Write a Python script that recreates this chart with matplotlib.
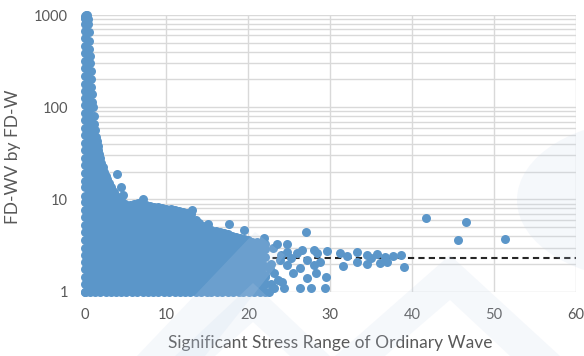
#!/usr/bin/env python3
"""
Scatter of FD-WV by FD-W against significant stress range of ordinary wave
(log y axis, dense cloud near the origin, dashed reference level).
"""
import matplotlib
matplotlib.use('Agg')
import matplotlib.pyplot as plt
from matplotlib.patches import Polygon, Circle

matplotlib.rcParams['font.family'] = ['Lato', 'DejaVu Sans']

# Upper edge of the dense cloud (x = stress range, y = FD-WV / FD-W)
env_x = [0.0, 0.1, 0.2, 0.3, 0.4, 0.45, 0.5, 0.55, 0.6, 0.65, 0.7, 0.75, 0.8,
         0.85, 0.9, 0.95, 1.0, 1.1, 1.2, 1.3, 1.4, 1.5, 1.6, 1.7, 1.8, 1.9,
         2.0, 2.2, 2.4, 2.6, 2.8, 3.0, 3.2, 3.4, 3.6, 3.9, 4.2, 4.6, 5.0, 5.5,
         6.0, 6.5, 7.0, 7.5, 8.0, 8.5, 9.0, 9.5, 10.0, 10.5, 11.0, 11.5, 12.0,
         12.5, 13.0, 13.6, 14.0, 14.5, 15.0, 15.5, 16.0, 16.5, 17.0, 17.5,
         18.0, 18.5, 19.0, 19.5, 20.0, 20.5, 21.0, 21.5, 22.0]
env_y = [930, 980, 1000, 1000, 900, 800, 650, 520, 430, 360, 300, 250, 200,
         165, 140, 115, 100, 80, 66, 56, 48, 43, 38, 34, 31, 28,
         25, 22.5, 20, 18, 16.5, 15, 13.8, 12.8, 12, 11, 10.2, 9.5, 9.0, 8.8,
         8.9, 9.2, 9.1, 8.8, 8.5, 8.3, 8.2, 8.0, 7.9, 7.8, 7.7, 7.5, 7.3,
         7.1, 6.9, 6.0, 5.5, 5.2, 4.9, 4.7, 4.6, 4.4, 4.3, 4.2,
         4.0, 3.9, 3.8, 3.7, 3.6, 3.5, 3.45, 3.4, 3.3]

# Points along the lower and left border of the cloud
bottom_x = [0.1, 0.7, 1.3, 1.9, 2.6, 3.2, 3.9, 4.5, 5.1, 5.8, 6.4, 7.1, 7.7,
            8.4, 9.0, 9.7, 10.3, 11.0, 11.6, 12.3, 12.9, 13.6, 14.2, 14.9,
            15.5, 16.2, 16.8, 17.5, 18.1, 18.8, 19.4, 20.1, 20.7, 21.4, 22.0,
            22.5]
left_y = [1.0, 1.2, 1.45, 1.75, 2.1, 2.5, 3.0, 3.6, 4.4, 5.3, 6.4, 7.7, 9.3,
          11, 13.5, 16, 19.5, 23.5, 28, 34, 41, 50, 60, 72, 87, 105, 125,
          150, 180, 220, 265, 320, 385, 460, 560, 670, 800, 930]
right_y = [1.2, 1.5, 1.9, 2.4, 2.9]

# Individual points outside / around the cloud
pts_x = [4.0, 4.4, 4.75, 7.2, 13.1, 15.1, 17.6, 19.5, 21.9, 23.5, 24.7, 26.6,
         27.0, 28.0, 29.6, 31.2, 32.0, 33.3, 34.5, 35.7, 36.7, 37.6, 38.6,
         39.0, 31.6, 33.3, 34.5, 36.1, 36.9, 35.0, 26.3, 27.6, 29.4, 29.5,
         24.3, 23.1, 26.3, 28.0, 28.8, 27.2, 28.2, 25.5, 24.7, 23.9, 24.1,
         23.1, 22.8, 24.7, 25.9, 27.2, 28.4, 22.8, 22.0, 23.0, 24.0, 25.2,
         22.6, 23.6, 41.7, 46.6, 45.6, 51.3]
pts_y = [18.9, 13.8, 11.3, 10.1, 7.7, 5.44, 5.44, 4.68, 3.81, 3.27, 3.27, 2.84,
         4.42, 2.86, 2.79, 2.61, 2.44, 2.72, 2.5, 2.57, 2.4, 2.43, 2.5,
         1.87, 1.9, 2.12, 2.0, 2.03, 2.12, 2.3, 1.09, 1.09, 1.09, 1.46,
         1.09, 1.09, 1.8, 1.95, 2.12, 1.4, 1.58, 1.58, 1.95, 2.21, 1.28,
         1.58, 2.0, 2.7, 2.6, 2.2, 2.6, 1.2, 1.45, 3.0, 2.5, 2.3,
         1.75, 1.35, 6.36, 5.68, 3.65, 3.71]

ref_level = 2.31

x_ticks = [0, 10, 20, 30, 40, 50, 60]
y_ticks = [1, 10, 100, 1000]

blue = '#5b96c9'
text_gray = '#595959'
grid_gray = '#d9d9d9'

W, H = 584, 356
fig = plt.figure(figsize=(W / 100, H / 100), dpi=100)
ax = fig.add_axes([84.5 / W, 1 - 291.7 / H, 491.5 / W, 276.7 / H])

ax.set_yscale('log')
ax.set_xlim(0, 60)
ax.set_ylim(1, 1000)

ax.axhline(ref_level, color='#262626', linewidth=1.5, dashes=(3, 2), zorder=1.5)

ax.fill_between(env_x, 1.0, env_y, color=blue, linewidth=0, zorder=2)
ms = 42
kw = dict(s=ms, color=blue, linewidths=0, zorder=3, clip_on=False)
ax.scatter(env_x, env_y, **kw)
ax.scatter(bottom_x, [1.0] * len(bottom_x), **kw)
ax.scatter([0.05] * len(left_y), left_y, **kw)
ax.scatter([22.0] * len(right_y), right_y, **kw)
ax.scatter(pts_x, pts_y, **kw)

ax.set_xticks(x_ticks)
ax.set_xticklabels([str(v) for v in x_ticks])
ax.set_yticks(y_ticks)
ax.set_yticklabels([str(v) for v in y_ticks])
ax.yaxis.set_minor_formatter(matplotlib.ticker.NullFormatter())
ax.tick_params(axis='both', which='both', length=0, labelsize=10.5,
               labelcolor=text_gray, pad=12)
ax.grid(True, which='major', color=grid_gray, linewidth=1.0, zorder=0)
ax.grid(True, which='minor', axis='y', color=grid_gray, linewidth=1.0, zorder=0)
ax.set_axisbelow(True)
for sp in ax.spines.values():
    sp.set_visible(False)

ax.set_xlabel('Significant Stress Range of Ordinary Wave', fontsize=12.5,
              color=text_gray)
ax.xaxis.set_label_coords(0.5, -0.155)
ax.set_ylabel('FD-WV by FD-W', fontsize=12.5, color=text_gray)
ax.yaxis.set_label_coords(-0.129, 0.487)

# faint watermark shapes in the background image
def px(x, y):
    return (x / W, 1 - y / H)

wm = dict(facecolor='#c3d4ea', edgecolor='none', alpha=0.16,
          transform=fig.transFigure, zorder=10)
fig.patches.append(Circle(px(649, 200), 132 / W, **wm))
fig.patches.append(Polygon([px(137, 356), px(255, 232), px(285, 255), px(205, 356)], **wm))
fig.patches.append(Polygon([px(175, 356), px(253, 283), px(330, 356), px(290, 356),
                            px(253, 322), px(215, 356)], **wm))
fig.patches.append(Polygon([px(335, 356), px(450, 255), px(560, 356), px(510, 356),
                            px(450, 300), px(385, 356)], **wm))

fig.savefig('out.png', dpi=100)
